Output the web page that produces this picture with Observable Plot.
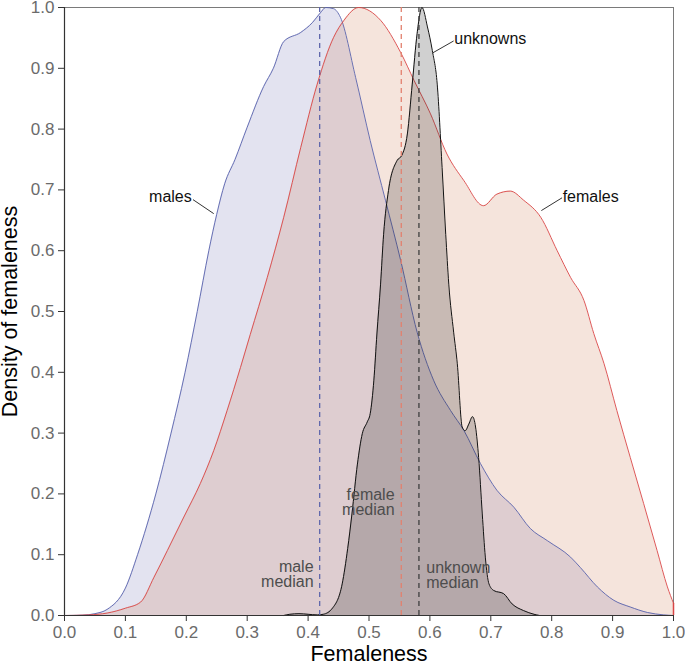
<!DOCTYPE html>
<html>
<head>
<meta charset="utf-8">
<script src="https://cdn.jsdelivr.net/npm/d3@7"></script>
<script src="https://cdn.jsdelivr.net/npm/@observablehq/plot@0.6"></script>
<style>
  html, body { margin: 0; padding: 0; background: #fff; }
  #chart svg { display: block; }
</style>
</head>
<body>
<div id="chart"></div>
<script>
// ---- Data ----
const maleX = [0, 0.03, 0.05, 0.07, 0.1, 0.12, 0.15, 0.175, 0.198, 0.218, 0.237, 0.25, 0.263, 0.28, 0.3, 0.327, 0.343, 0.36, 0.388, 0.407, 0.42, 0.429, 0.442, 0.453, 0.478, 0.502, 0.527, 0.552, 0.579, 0.606, 0.634, 0.656, 0.683, 0.71, 0.738, 0.765, 0.793, 0.831, 0.847, 0.875, 0.902, 0.929, 0.957, 0.984, 1.0];
const maleY = [0, 0.0005, 0.003, 0.01, 0.045, 0.1, 0.2, 0.3, 0.4, 0.5, 0.6, 0.66, 0.71, 0.75, 0.803, 0.87, 0.9, 0.944, 0.959, 0.975, 0.991, 1.0, 0.998, 0.984, 0.885, 0.781, 0.683, 0.584, 0.466, 0.387, 0.337, 0.304, 0.25, 0.206, 0.178, 0.143, 0.123, 0.096, 0.079, 0.047, 0.025, 0.014, 0.005, 0.001, 0];

const femaleX = [0, 0.04, 0.07, 0.1, 0.125, 0.147, 0.169, 0.196, 0.223, 0.245, 0.267, 0.289, 0.305, 0.333, 0.36, 0.388, 0.415, 0.442, 0.459, 0.483, 0.519, 0.552, 0.574, 0.601, 0.628, 0.656, 0.688, 0.71, 0.732, 0.754, 0.782, 0.809, 0.831, 0.853, 0.869, 0.886, 0.907, 0.929, 0.951, 0.973, 0.99, 1.0];
const femaleY = [0, 0.001, 0.004, 0.012, 0.022, 0.063, 0.107, 0.162, 0.217, 0.271, 0.337, 0.408, 0.462, 0.556, 0.655, 0.77, 0.874, 0.951, 0.979, 1.0, 0.979, 0.926, 0.88, 0.825, 0.759, 0.715, 0.674, 0.693, 0.698, 0.683, 0.655, 0.6, 0.556, 0.518, 0.464, 0.414, 0.337, 0.26, 0.184, 0.107, 0.047, 0.02];

const unknownX = [0.36, 0.37, 0.385, 0.4, 0.415, 0.425, 0.44, 0.456, 0.465, 0.472, 0.481, 0.489, 0.497, 0.502, 0.508, 0.513, 0.519, 0.524, 0.532, 0.546, 0.554, 0.563, 0.571, 0.579, 0.587, 0.596, 0.604, 0.612, 0.62, 0.626, 0.631, 0.639, 0.645, 0.653, 0.658, 0.664, 0.67, 0.675, 0.68, 0.686, 0.691, 0.697, 0.705, 0.721, 0.735, 0.754, 0.771, 0.78];
const unknownY = [0, 0.002, 0.003, 0.002, 0.001, 0.002, 0.012, 0.052, 0.11, 0.167, 0.249, 0.299, 0.318, 0.332, 0.387, 0.463, 0.545, 0.627, 0.699, 0.748, 0.757, 0.792, 0.874, 0.957, 1.0, 0.968, 0.929, 0.874, 0.737, 0.627, 0.545, 0.466, 0.414, 0.31, 0.304, 0.315, 0.327, 0.31, 0.26, 0.167, 0.096, 0.052, 0.041, 0.036, 0.019, 0.008, 0.002, 0];

const medianGroups = ["male", "female", "unknown"];
const medianValues = [0.419, 0.553, 0.582];

const xTicks = [0, 0.1, 0.2, 0.3, 0.4, 0.5, 0.6, 0.7, 0.8, 0.9, 1.0];
const yTicks = [0, 0.1, 0.2, 0.3, 0.4, 0.5, 0.6, 0.7, 0.8, 0.9, 1.0];

const seriesLabels = ["males", "unknowns", "females"];
const seriesLabelX = [0.209, 0.640, 0.818];
const seriesLabelY = [0.688, 0.949, 0.688];
const seriesLabelAnchor = ["end", "start", "start"];
const leaderX1 = [0.211, 0.604, 0.783];
const leaderY1 = [0.684, 0.925, 0.666];
const leaderX2 = [0.245, 0.639, 0.817];
const leaderY2 = [0.661, 0.945, 0.687];

const medianLabels = ["male\nmedian", "female\nmedian", "unknown\nmedian"];
const medianLabelX = [0.409, 0.542, 0.594];
const medianLabelY = [0.067, 0.186, 0.066];
const medianLabelAnchor = ["end", "end", "start"];

// ---- Build tables ----
const zip = (xs, ys) => xs.map((x, i) => ({x, y: ys[i]}));
const males = zip(maleX, maleY);
const females = zip(femaleX, femaleY);
const unknowns = zip(unknownX, unknownY);
const medians = medianGroups.map((g, i) => ({g, v: medianValues[i]}));
const sLabels = seriesLabels.map((t, i) => ({t, x: seriesLabelX[i], y: seriesLabelY[i], a: seriesLabelAnchor[i], x1: leaderX1[i], y1: leaderY1[i], x2: leaderX2[i], y2: leaderY2[i]}));
const mLabels = medianLabels.map((t, i) => ({t, x: medianLabelX[i], y: medianLabelY[i], a: medianLabelAnchor[i]}));

const maleStroke = "#5862ad", maleFill = "#7373b4";
const femaleStroke = "#d94545", femaleFill = "#cd7850";
const unkStroke = "#111111", unkFill = "#141414";
const medianColors = {male: "#5f66ab", female: "#e2806e", unknown: "#3f3f3f"};

const curve = "monotone-x";

const textMarks = (rows, opts) => ["start", "end"].map(a =>
  Plot.text(rows.filter(d => d.a === a), {x: "x", y: "y", text: "t", textAnchor: a, ...opts}));

const chart = Plot.plot({
  width: 685,
  height: 667,
  marginLeft: 64,
  marginRight: 12,
  marginTop: 7,
  marginBottom: 52,
  style: {fontFamily: "'Liberation Sans', Arial, sans-serif", fontSize: "17px", background: "#fff"},
  x: {domain: [0, 1], label: null},
  y: {domain: [0, 1], label: null},
  marks: [
    Plot.frame({stroke: "#7a7a7a", strokeWidth: 1}),
    Plot.areaY(males, {x: "x", y: "y", fill: maleFill, fillOpacity: 0.2, curve}),
    Plot.areaY(females, {x: "x", y: "y", fill: femaleFill, fillOpacity: 0.2, curve}),
    Plot.lineY(males, {x: "x", y: "y", stroke: maleStroke, strokeWidth: 0.9, curve}),
    Plot.lineY(females, {x: "x", y: "y", stroke: femaleStroke, strokeWidth: 0.9, curve}),
    Plot.areaY(unknowns, {x: "x", y: "y", fill: unkFill, fillOpacity: 0.2, curve}),
    Plot.lineY(unknowns, {x: "x", y: "y", stroke: unkStroke, strokeWidth: 1, curve}),
    Plot.ruleX(medians, {x: "v", y1: 0, y2: 1, stroke: d => medianColors[d.g], strokeWidth: 1.3, strokeDasharray: "5,4"}),
    Plot.ruleX([1], {y1: 0, y2: femaleY[femaleY.length - 1], stroke: femaleStroke, strokeWidth: 1.5}),
    Plot.link(sLabels, {x1: "x1", y1: "y1", x2: "x2", y2: "y2", stroke: "#333", strokeWidth: 1}),
    ...textMarks(sLabels, {fontSize: 16, fill: "#111"}),
    ...textMarks(mLabels, {fontSize: 16, lineHeight: 0.95, fill: "#4d4d4d"}),
    Plot.axisX({ticks: xTicks, tickFormat: d3.format(".1f"), tickSize: 6, tickPadding: 4, fontSize: 17, stroke: "#333", fill: "#6b6b6b", label: null}),
    Plot.axisY({ticks: yTicks, tickFormat: d3.format(".1f"), tickSize: 6, tickPadding: 4, fontSize: 17, stroke: "#333", fill: "#6b6b6b", label: null}),
    Plot.ruleY([0], {stroke: "#333", strokeWidth: 1.2}),
    Plot.ruleX([0], {stroke: "#333", strokeWidth: 1.2}),
    Plot.text(["Femaleness"], {frameAnchor: "bottom", dy: 45, fontSize: 21.5, fill: "#000", textAnchor: "middle"}),
    Plot.text(["Density of femaleness"], {frameAnchor: "left", dx: -54, rotate: -90, fontSize: 21.5, fill: "#000", textAnchor: "middle"})
  ]
});
document.getElementById("chart").appendChild(chart);
</script>
</body>
</html>
